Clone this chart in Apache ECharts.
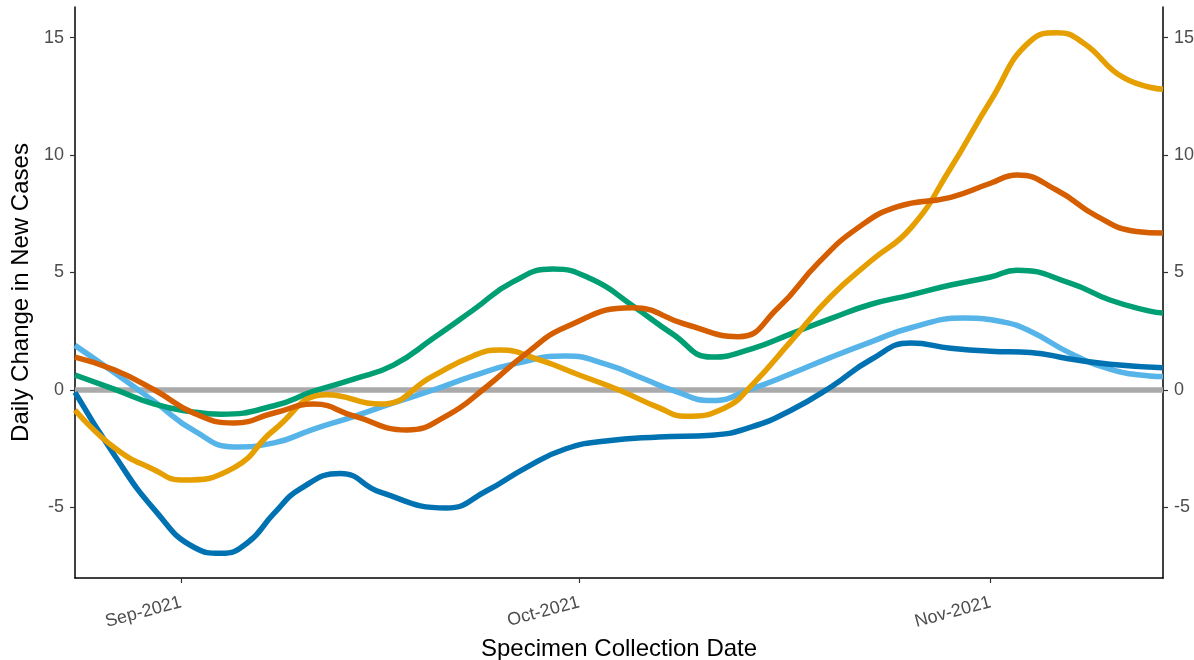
<!DOCTYPE html>
<html>
<head>
<meta charset="utf-8">
<script src="https://cdn.jsdelivr.net/npm/echarts@6/dist/echarts.min.js"></script>
<style>
  html, body { margin: 0; padding: 0; background: #fff; }
  #main { width: 1194px; height: 660px; }
</style>
</head>
<body>
<div id="main"></div>
<script>
// x 值 = 距 2021-08-24 的天数
var startDate = '2021-08-24';
var endDay = 82; // 2021-11-14

var darkBlueDays = [0, 3, 6, 9, 11, 13, 15, 17, 20, 23, 28, 31, 34, 37, 40, 44, 48, 51, 54, 57, 60, 63, 66, 69, 72, 75, 78, 82];
var darkBlue = [-0.1, -2.8, -5.1, -6.7, -6.95, -6.5, -5.25, -4.2, -3.55, -4.35, -5.02, -4.3, -3.3, -2.5, -2.17, -2.0,
  -1.92, -1.57, -0.85, 0.14, 1.3, 2.0, 1.78, 1.65, 1.6, 1.32, 1.1, 0.95];

var lightBlueDays = [0, 3, 6, 9, 12, 15, 18, 21, 24, 27, 30, 33, 37, 40, 43, 45, 48, 51, 54, 57, 60, 63, 67, 70, 72, 75, 78, 81, 82];
var lightBlue = [1.9, 0.72, -0.5, -1.74, -2.42, -2.25, -1.66, -1.13, -0.55, 0.0, 0.6, 1.1, 1.45, 1.1, 0.45, 0.0,
  -0.45, 0.05, 0.7, 1.4, 2.05, 2.65, 3.06, 2.89, 2.5, 1.57, 0.89, 0.6, 0.57];

var greenDays = [0, 3, 6, 9, 11, 15, 18, 21, 24, 27, 30, 33, 36, 39, 42, 45, 48, 51, 54, 57, 60, 63, 66, 69, 71, 75, 78, 81, 82];
var green = [0.64, 0.03, -0.6, -0.94, -1.03, -0.67, -0.05, 0.46, 1.06, 2.2, 3.4, 4.6, 5.15, 4.7, 3.6, 2.4,
  1.4, 1.75, 2.4, 3.05, 3.65, 4.05, 4.47, 4.81, 5.1, 4.55, 3.83, 3.36, 3.28];

var orangeDays = [0, 3, 6, 8, 12, 15, 19, 23, 27, 30, 32, 35, 38, 41, 44, 46, 49, 51, 54, 57, 60, 63, 66, 69, 72, 74, 76, 79, 82];
var orange = [-0.85, -2.47, -3.4, -3.83, -3.3, -1.7, -0.2, -0.6, 0.6, 1.45, 1.7, 1.28, 0.64, 0.0, -0.75, -1.12,
  -0.75, 0.2, 2.1, 4.0, 5.5, 6.9, 9.45, 12.3, 14.85, 15.2, 14.77, 13.3, 12.8];

var vermillionDays = [0, 3, 6, 9, 12, 15, 18, 21, 25, 28, 31, 34, 37, 42, 46, 50, 53, 56, 59, 62, 66, 69, 71, 74, 77, 80, 82];
var vermillion = [1.4, 0.85, 0.0, -1.0, -1.4, -0.98, -0.6, -1.1, -1.7, -1.1, 0.13, 1.55, 2.68, 3.5, 2.8, 2.27,
  3.5, 5.4, 6.9, 7.8, 8.2, 8.8, 9.15, 8.5, 7.4, 6.75, 6.68];

var yTicks = [-5, 0, 5, 10, 15];
var xTickDays = [8, 38, 69]; // 2021-09-01, 2021-10-01, 2021-11-01
var monthNames = ['Jan','Feb','Mar','Apr','May','Jun','Jul','Aug','Sep','Oct','Nov','Dec'];

var DAY = 86400000;
var p = startDate.split('-');
var t0 = Date.UTC(+p[0], +p[1] - 1, +p[2]);
function pairs(days, vals) {
  return vals.map(function (v, i) { return [days[i], v]; });
}
var font = 'Liberation Sans, Arial, sans-serif';

function yAxisCfg(pos) {
  return {
    type: 'value', position: pos, min: -8, max: 16.3,
    name: pos === 'left' ? 'Daily Change in New Cases' : '',
    nameLocation: 'middle', nameGap: 36,
    nameTextStyle: { color: '#000', fontSize: 24, fontFamily: font },
    axisLine: { show: true, onZero: false, lineStyle: { color: '#000', width: 1.5 } },
    axisTick: { show: true, length: 5, customValues: yTicks, lineStyle: { color: '#333', width: 1.2 } },
    axisLabel: { customValues: yTicks, margin: 11, color: '#4d4d4d', fontSize: 18, fontFamily: font },
    splitLine: { show: false }
  };
}

function lineSeries(name, days, vals, color) {
  return {
    name: name, type: 'line', data: pairs(days, vals), smooth: 0.5, showSymbol: false,
    lineStyle: { color: color, width: 5.5 }, itemStyle: { color: color }, silent: true
  };
}

const chart = echarts.init(document.getElementById('main'), null, { renderer: 'canvas' });
chart.setOption({
  animation: false,
  grid: { left: 75, right: 31, top: 7, bottom: 82, outerBoundsMode: 'none' },
  xAxis: {
    type: 'value', min: 0, max: endDay,
    name: 'Specimen Collection Date', nameLocation: 'middle', nameGap: 59,
    nameTextStyle: { color: '#000', fontSize: 24, fontFamily: font },
    axisLine: { show: true, onZero: false, lineStyle: { color: '#000', width: 1.5 } },
    axisTick: { show: true, length: 5, customValues: xTickDays, lineStyle: { color: '#333', width: 1.2 } },
    axisLabel: {
      customValues: xTickDays, rotate: 15, margin: 24, color: '#4d4d4d', fontSize: 18, fontFamily: font,
      formatter: function (v) {
        var d = new Date(t0 + v * DAY);
        return monthNames[d.getUTCMonth()] + '-' + d.getUTCFullYear();
      }
    },
    splitLine: { show: false }
  },
  yAxis: [yAxisCfg('left'), yAxisCfg('right')],
  series: [
    {
      type: 'line', data: [[0, 0], [endDay, 0]], showSymbol: false, silent: true,
      lineStyle: { color: '#aaaaaa', width: 5.5 }
    },
    lineSeries('lightBlue', lightBlueDays, lightBlue, '#56B4E9'),
    lineSeries('darkBlue', darkBlueDays, darkBlue, '#0072B2'),
    lineSeries('green', greenDays, green, '#009E73'),
    lineSeries('orange', orangeDays, orange, '#E69F00'),
    lineSeries('vermillion', vermillionDays, vermillion, '#D55E00')
  ]
});
</script>
</body>
</html>
